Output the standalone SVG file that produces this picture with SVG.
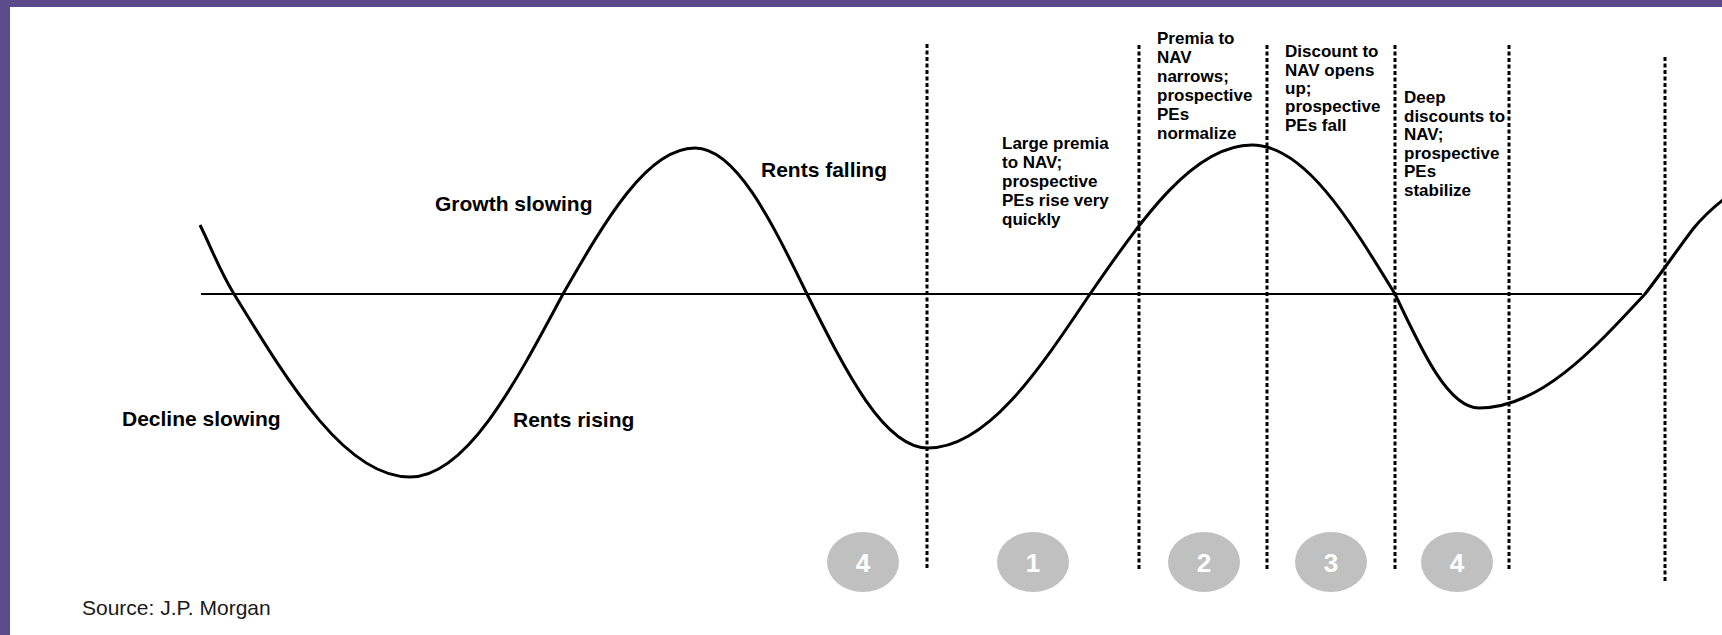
<svg xmlns="http://www.w3.org/2000/svg" width="1722" height="635" viewBox="0 0 1722 635">
<style>
.lbl{font-family:"Liberation Sans",Arial,sans-serif;font-weight:bold;font-size:21px;fill:#000}
.sm{font-family:"Liberation Sans",Arial,sans-serif;font-weight:bold;font-size:17px;fill:#000}
.src{font-family:"Liberation Sans",Arial,sans-serif;font-size:21px;fill:#1a1a1a}
.dash{stroke:#000;stroke-width:3;stroke-dasharray:4 2.5;fill:none}
.badge ellipse{fill:#c0c0c0}
.badge text{font-family:"Liberation Sans",Arial,sans-serif;font-weight:bold;font-size:26px;fill:#fff;text-anchor:middle}
</style>
<rect x="0" y="0" width="1722" height="635" fill="#fff"/>
<rect x="0" y="0" width="1722" height="7" fill="#5c4b8b"/>
<rect x="0" y="0" width="10" height="635" fill="#5c4b8b"/>

<g id="connectors">
  <line id="axis" x1="201" y1="294" x2="1642" y2="294" stroke="#000" stroke-width="2"/>
  <path id="cycle" fill="none" stroke="#000" stroke-width="3" stroke-linejoin="round" d="M200,225 C211,247 219,269.5 234,294 C291.4,387.7 346.3,477 410,477 C465.4,477 513.1,387.7 563,294 C606,219.2 647.2,148 695,148 C735.5,148 770.5,219.2 807,294 C846.4,372.8 884.2,448 928,448 C986.6,448 1037.2,372.8 1090,294 C1142.8,217.7 1193.4,145 1252,145 C1303.8,145 1348.4,217.7 1395,294 C1422.4,352.4 1448.6,408 1479,408 C1539.1,408 1590.9,352.4 1645,294 C1660,275 1680,246 1693,229 Q1705,214 1724,199"/>
  <line class="dash" x1="927" y1="44" x2="927" y2="569"/>
  <line class="dash" x1="1139" y1="45" x2="1139" y2="569"/>
  <line class="dash" x1="1267" y1="45" x2="1267" y2="569"/>
  <line class="dash" x1="1395" y1="45" x2="1395" y2="569"/>
  <line class="dash" x1="1509" y1="45" x2="1509" y2="569"/>
  <line class="dash" x1="1665" y1="57" x2="1665" y2="581"/>
</g>

<g id="label-decline"><text class="lbl" x="122" y="426">Decline slowing</text></g>
<g id="label-rents-rising"><text class="lbl" x="513" y="427">Rents rising</text></g>
<g id="label-growth"><text class="lbl" x="435" y="211">Growth slowing</text></g>
<g id="label-rents-falling"><text class="lbl" x="761" y="177">Rents falling</text></g>

<g id="phase1-text"><text class="sm">
  <tspan x="1002" y="149">Large premia</tspan>
  <tspan x="1002" y="168">to NAV;</tspan>
  <tspan x="1002" y="187">prospective</tspan>
  <tspan x="1002" y="206">PEs rise very</tspan>
  <tspan x="1002" y="225">quickly</tspan>
</text></g>
<g id="phase2-text"><text class="sm">
  <tspan x="1157" y="44">Premia to</tspan>
  <tspan x="1157" y="63">NAV</tspan>
  <tspan x="1157" y="82">narrows;</tspan>
  <tspan x="1157" y="101">prospective</tspan>
  <tspan x="1157" y="120">PEs</tspan>
  <tspan x="1157" y="138.5">normalize</tspan>
</text></g>
<g id="phase3-text"><text class="sm">
  <tspan x="1285" y="57">Discount to</tspan>
  <tspan x="1285" y="75.5">NAV opens</tspan>
  <tspan x="1285" y="94">up;</tspan>
  <tspan x="1285" y="112">prospective</tspan>
  <tspan x="1285" y="130.5">PEs fall</tspan>
</text></g>
<g id="phase4-text"><text class="sm">
  <tspan x="1404" y="103">Deep</tspan>
  <tspan x="1404" y="121.5">discounts to</tspan>
  <tspan x="1404" y="140">NAV;</tspan>
  <tspan x="1404" y="158.5">prospective</tspan>
  <tspan x="1404" y="177">PEs</tspan>
  <tspan x="1404" y="195.5">stabilize</tspan>
</text></g>

<g id="badge-4a" class="badge"><ellipse cx="863" cy="562" rx="36" ry="30"/><text x="863" y="572">4</text></g>
<g id="badge-1" class="badge"><ellipse cx="1033" cy="562" rx="36" ry="30"/><text x="1033" y="572">1</text></g>
<g id="badge-2" class="badge"><ellipse cx="1204" cy="562" rx="36" ry="30"/><text x="1204" y="572">2</text></g>
<g id="badge-3" class="badge"><ellipse cx="1331" cy="562" rx="36" ry="30"/><text x="1331" y="572">3</text></g>
<g id="badge-4b" class="badge"><ellipse cx="1457" cy="562" rx="36" ry="30"/><text x="1457" y="572">4</text></g>

<g id="source"><text class="src" x="82" y="615">Source: J.P. Morgan</text></g>
</svg>
